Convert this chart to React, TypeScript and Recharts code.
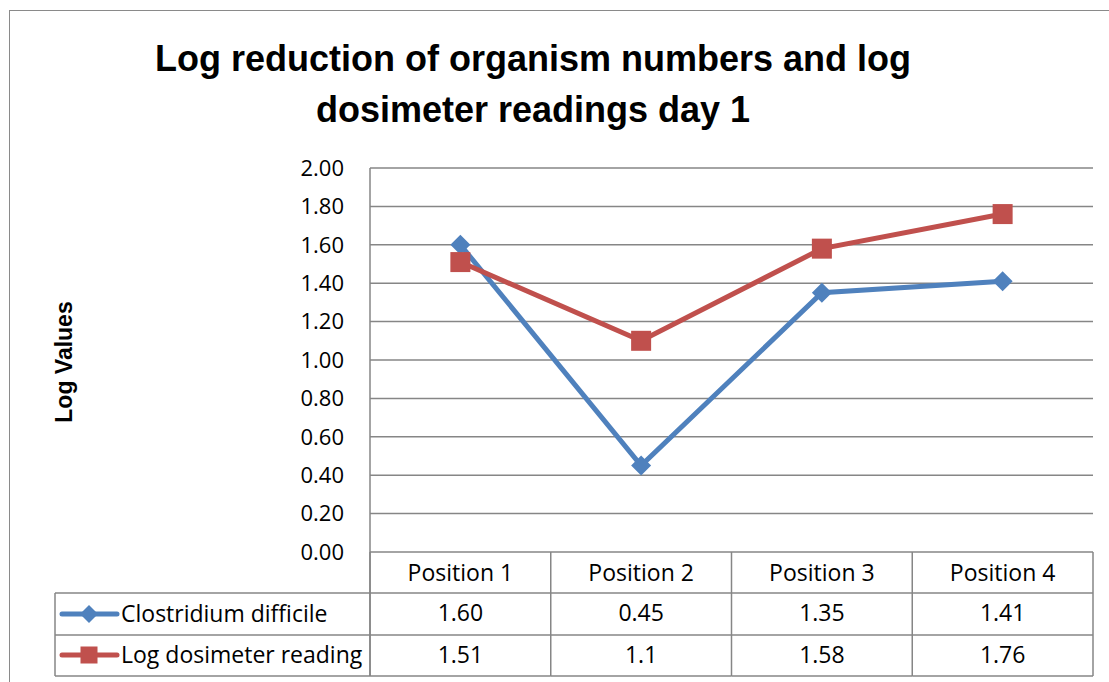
import { LineChart, Line, XAxis, YAxis, CartesianGrid } from 'recharts';

document.body.style.margin = '0';

const positions = ['Position 1', 'Position 2', 'Position 3', 'Position 4'];
const clostridium = [1.6, 0.45, 1.35, 1.41];
const dosimeter = [1.51, 1.1, 1.58, 1.76];
const clostridiumLabels = ['1.60', '0.45', '1.35', '1.41'];
const dosimeterLabels = ['1.51', '1.1', '1.58', '1.76'];
const yTicks = [0, 0.2, 0.4, 0.6, 0.8, 1.0, 1.2, 1.4, 1.6, 1.8, 2.0];

const data = positions.map((p, i) => ({
  position: p,
  clostridium: clostridium[i],
  dosimeter: dosimeter[i],
}));

const W = 1109;
const H = 682;
const PLOT_LEFT = 370;
const PLOT_RIGHT = 1093;
const PLOT_TOP = 168;
const PLOT_BOTTOM = 552;
const Y_AXIS_W = 70;
const X_AXIS_H = 124;
const COL_W = (PLOT_RIGHT - PLOT_LEFT) / positions.length;

const BLUE = '#4F81BD';
const RED = '#C0504D';
const GRID = '#868686';
const FONT = '"Open Sans", "Noto Sans", sans-serif';
const TITLE_FONT = '"Liberation Sans", Arial, sans-serif';

function Diamond({ cx, cy, r = 10 }: { cx: number; cy: number; r?: number }) {
  return (
    <path
      d={`M${cx},${cy - r}L${cx + r},${cy}L${cx},${cy + r}L${cx - r},${cy}Z`}
      fill={BLUE}
    />
  );
}

function Square({ cx, cy, s = 20 }: { cx: number; cy: number; s?: number }) {
  return <rect x={cx - s / 2} y={cy - s / 2} width={s} height={s} fill={RED} />;
}

// one column of the data table under the plot, hung on the x axis tick
function TableTick(props: any) {
  const { x, y, payload } = props;
  const i = payload.index;
  const left = x - COL_W / 2;
  const right = x + COL_W / 2;
  const line = { stroke: GRID, strokeWidth: 1.5 };
  const txt = { fontFamily: FONT, fontSize: 23, fill: '#000', textAnchor: 'middle' as const };
  return (
    <g>
      {i === 0 && <line x1={left} y1={y} x2={left} y2={y + 124} {...line} />}
      <line x1={right} y1={y} x2={right} y2={y + 124} {...line} />
      <line x1={left} y1={y + 41} x2={right} y2={y + 41} {...line} />
      <line x1={left} y1={y + 83} x2={right} y2={y + 83} {...line} />
      <line x1={left} y1={y + 124} x2={right} y2={y + 124} {...line} />
      <text x={x} y={y + 29} {...txt}>{payload.value}</text>
      <text x={x} y={y + 69} {...txt}>{clostridiumLabels[i]}</text>
      <text x={x} y={y + 111} {...txt}>{dosimeterLabels[i]}</text>
    </g>
  );
}

export default function App() {
  const line = { stroke: GRID, strokeWidth: 1.5 };
  return (
    <div style={{ position: 'relative', width: W, height: H, overflow: 'hidden', background: '#fff' }}>
      <div
        style={{
          position: 'absolute', left: 9, top: 10, width: 1300, height: 900,
          border: '1.5px solid #8a8a8a', boxSizing: 'border-box',
        }}
      />
      <div style={{ position: 'absolute', left: 0, top: 0 }}>
        <LineChart
          width={W}
          height={H}
          data={data}
          margin={{
            top: PLOT_TOP,
            right: W - PLOT_RIGHT,
            left: PLOT_LEFT - Y_AXIS_W,
            bottom: H - PLOT_BOTTOM - X_AXIS_H,
          }}
        >
          <CartesianGrid vertical={false} stroke={GRID} strokeWidth={1.5} />
          <XAxis
            dataKey="position"
            height={X_AXIS_H}
            axisLine={false}
            tickLine={false}
            tickSize={0}
            tickMargin={0}
            interval={0}
            padding={{ left: COL_W / 2, right: COL_W / 2 }}
            tick={<TableTick />}
          />
          <YAxis
            width={Y_AXIS_W}
            domain={[0, 2]}
            ticks={yTicks}
            interval={0}
            tickFormatter={(v: number) => v.toFixed(2)}
            axisLine={{ stroke: GRID, strokeWidth: 1.5 }}
            tickLine={false}
            tickSize={0}
            tickMargin={26}
            tick={{ fontFamily: FONT, fontSize: 22, fill: '#000' }}
          />
          <Line
            dataKey="clostridium"
            stroke={BLUE}
            strokeWidth={5}
            isAnimationActive={false}
            dot={(p: any) => <Diamond key={p.index} cx={p.cx} cy={p.cy} />}
          />
          <Line
            dataKey="dosimeter"
            stroke={RED}
            strokeWidth={5}
            isAnimationActive={false}
            dot={(p: any) => <Square key={p.index} cx={p.cx} cy={p.cy} />}
          />
        </LineChart>
      </div>
      <svg
        width={W}
        height={H}
        style={{ position: 'absolute', left: 0, top: 0, pointerEvents: 'none' }}
      >
        <text x={533} y={71} textAnchor="middle" fontFamily={TITLE_FONT} fontWeight="bold" fontSize={36}>
          Log reduction of organism numbers and log
        </text>
        <text x={533} y={122} textAnchor="middle" fontFamily={TITLE_FONT} fontWeight="bold" fontSize={36}>
          dosimeter readings day 1
        </text>
        <text
          x={72}
          y={362}
          textAnchor="middle"
          transform="rotate(-90 72 362)"
          fontFamily={TITLE_FONT}
          fontWeight="bold"
          fontSize={23}
        >
          Log Values
        </text>
        <line x1={55} y1={593} x2={PLOT_LEFT} y2={593} {...line} />
        <line x1={55} y1={635} x2={PLOT_LEFT} y2={635} {...line} />
        <line x1={55} y1={676} x2={PLOT_LEFT} y2={676} {...line} />
        <line x1={55} y1={593} x2={55} y2={676} {...line} />
        <line x1={PLOT_LEFT} y1={552} x2={PLOT_LEFT} y2={676} {...line} />
        <line x1={62} y1={614} x2={117} y2={614} stroke={BLUE} strokeWidth={5} strokeLinecap="round" />
        <Diamond cx={89} cy={614} r={9} />
        <line x1={62} y1={655} x2={117} y2={655} stroke={RED} strokeWidth={5} strokeLinecap="round" />
        <Square cx={89} cy={655} s={17} />
        <text x={121} y={622} fontFamily={FONT} fontSize={23} fill="#000">Clostridium difficile</text>
        <text x={121} y={663} fontFamily={FONT} fontSize={23} fill="#000">Log dosimeter reading</text>
      </svg>
    </div>
  );
}
